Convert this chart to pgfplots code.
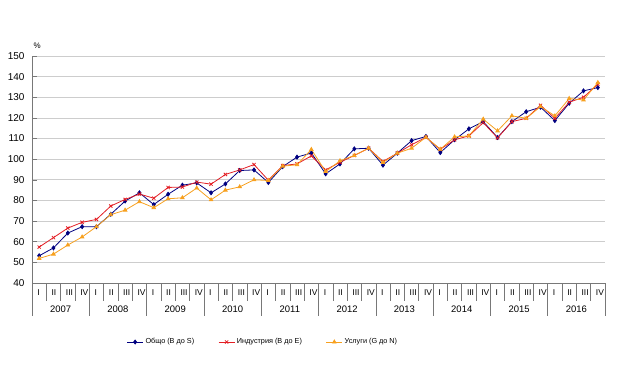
\documentclass[border=0pt]{standalone}
\usepackage{fontspec}
\setmainfont{Liberation Sans}
\usepackage{pgfplots}
\usepackage{pgfplotstable}
\pgfplotsset{compat=1.18}
\definecolor{cTotal}{RGB}{0,0,128}
\definecolor{cInd}{RGB}{227,30,36}
\definecolor{cSrv}{RGB}{247,160,30}
\definecolor{gridc}{RGB}{205,205,205}
\definecolor{axc}{RGB}{120,120,120}

\pgfplotstableread{
q total ind srv
0 53.2 57.4 51.9
1 57.0 62.0 54.0
2 64.2 66.6 58.4
3 67.3 69.4 62.3
4 67.3 70.8 67.3
5 73.3 77.3 73.1
6 79.7 80.5 75.3
7 83.7 83.1 79.4
8 78.0 81.1 76.5
9 83.0 86.3 80.8
10 87.4 86.5 81.3
11 88.5 88.9 86.0
12 83.7 87.9 80.3
13 88.0 92.6 85.0
14 94.5 94.8 86.6
15 94.8 97.4 90.0
16 88.7 89.8 89.7
17 96.4 96.9 96.6
18 101.0 97.7 97.3
19 103.0 101.6 104.7
20 92.9 94.8 94.0
21 97.7 98.5 99.2
22 105.0 101.8 101.8
23 105.3 105.3 105.3
24 97.1 98.9 98.4
25 102.9 102.9 102.9
26 109.0 107.0 105.3
27 111.0 110.6 110.6
28 103.2 104.8 104.8
29 109.4 109.4 110.8
30 114.7 111.3 111.3
31 118.2 117.7 119.4
32 110.5 110.3 113.7
33 118.2 118.2 121.0
34 123.0 119.8 119.8
35 125.2 126.1 125.5
36 118.7 119.8 121.0
37 127.1 127.6 129.4
38 133.1 130.0 128.7
39 134.7 136.3 137.1
}\datatable

\begin{document}
\begin{tikzpicture}
\useasboundingbox (0,0) rectangle (628bp,380bp);
\begin{axis}[
  at={(32bp,97bp)}, anchor=south west,
  width=573bp, height=227bp, scale only axis,
  xmin=-0.5, xmax=39.5, ymin=40, ymax=150,
  ytick={40,50,...,150},
  ytick pos=left,
  xtick={0,...,39},
  xticklabels={I,II,III,IV,I,II,III,IV,I,II,III,IV,I,II,III,IV,I,II,III,IV,I,II,III,IV,I,II,III,IV,I,II,III,IV,I,II,III,IV,I,II,III,IV},
  major x tick style={draw=none},
  major tick length=5bp,
  y tick style={axc, line width=0.6pt},
  ymajorgrids,
  grid style={gridc, line width=0.7pt},
  axis line style={draw=none},
  /pgf/number format/assume math mode=true,
  yticklabel style={font=\fontsize{10}{11}\selectfont, xshift=-4bp},
  xticklabel style={font=\fontsize{8.5}{9}\selectfont, anchor=north west, xshift=-5.4bp, yshift=-3bp},
  clip=false,
  legend style={at={(0.165,-0.26)}, anchor=west, draw=none, fill=none,
    legend columns=3, font=\fontsize{7.3}{8}\selectfont,
    /tikz/every even column/.append style={column sep=22bp},
    inner sep=0pt},
  legend cell align=left,
  legend image code/.code={\draw[mark repeat=2,mark phase=2] plot coordinates {(0bp,0bp) (8bp,0bp) (16bp,0bp)};},
]
\draw[axc, line width=0.6pt] (rel axis cs:0,0) -- (rel axis cs:0,1);
\draw[axc, line width=0.6pt] (rel axis cs:0,0) -- (rel axis cs:1,0);
\pgfplotsinvokeforeach{0,...,40}{
  \draw[axc, line width=0.6pt] (axis cs:#1-0.5,40) -- ([yshift=-18bp]axis cs:#1-0.5,40);
}
\pgfplotsinvokeforeach{0,4,...,40}{
  \draw[axc, line width=0.6pt] (axis cs:#1-0.5,40) -- ([yshift=-33bp]axis cs:#1-0.5,40);
}
\pgfplotsinvokeforeach{0,...,9}{
  \node[font=\fontsize{9.5}{10}\selectfont] at (axis cs:{4*#1+1.5},40) [yshift=-26bp] {\the\numexpr2007+#1\relax};
}
\node[font=\fontsize{8}{9}\selectfont, anchor=south west] at (rel axis cs:0,1) [xshift=-2bp, yshift=4bp] {\%};
\addplot[cTotal, line width=0.8pt, mark=diamond*, mark size=2pt, mark options={solid}] table[x=q, y=total] {\datatable};
\addlegendentry{Общо (B до S)}
\addplot[cInd, line width=0.8pt, mark=x, mark size=2.3pt, mark options={solid}] table[x=q, y=ind] {\datatable};
\addlegendentry{Индустрия (B до E)}
\addplot[cSrv, line width=0.8pt, mark=triangle*, mark size=2pt, mark options={solid}] table[x=q, y=srv] {\datatable};
\addlegendentry{Услуги (G до N)}
\end{axis}
\end{tikzpicture}
\end{document}
